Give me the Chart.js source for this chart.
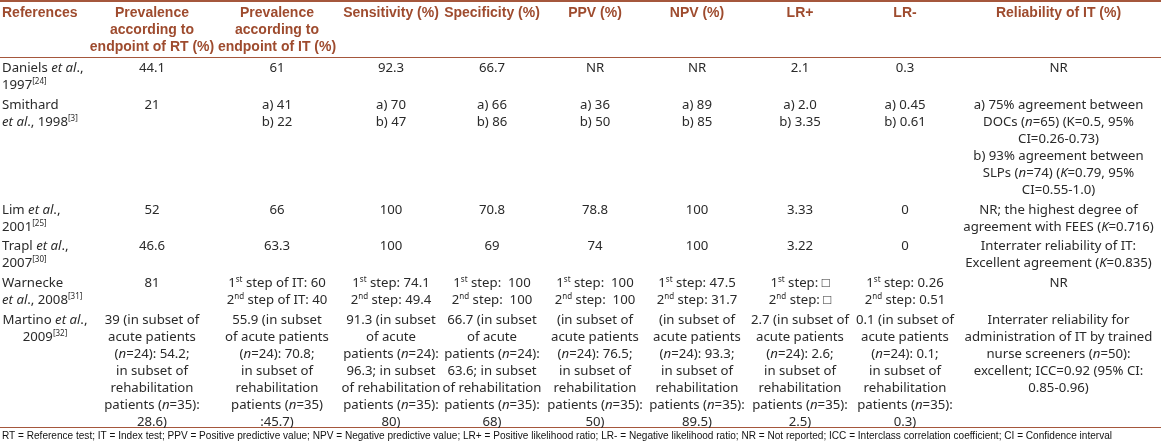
<!DOCTYPE html>
<html>
<head>
<meta charset="utf-8">
<script src="https://cdn.jsdelivr.net/npm/chart.js@4.4.1/dist/chart.umd.min.js"></script>
<style>
  body { margin: 0; background: #fff; }
  #wrap { width: 1161px; height: 445px; position: relative; }
</style>
</head>
<body>
<div id="wrap"><canvas id="table-chart"></canvas></div>
<script>
// table content, one array per column (each cell = list of lines)
// markup: _x_ = italic, ^x^ = superscript
const headers = [
  ['References'],
  ['Prevalence', 'according to', 'endpoint of RT (%)'],
  ['Prevalence', 'according to', 'endpoint of IT (%)'],
  ['Sensitivity (%)'],
  ['Specificity (%)'],
  ['PPV (%)'],
  ['NPV (%)'],
  ['LR+'],
  ['LR-'],
  ['Reliability of IT (%)']
];

const references = [
  ['Daniels _et al_.,', '1997^[24]^'],
  ['Smithard', '_et al_., 1998^[3]^'],
  ['Lim _et al_.,', '2001^[25]^'],
  ['Trapl _et al_.,', '2007^[30]^'],
  ['Warnecke', '_et al_., 2008^[31]^'],
  ['Martino _et al_.,', '2009^[32]^']
];
const prevalenceRT = [
  ['44.1'], ['21'], ['52'], ['46.6'], ['81'],
  ['39 (in subset of', 'acute patients', '(_n_=24): 54.2;', 'in subset of', 'rehabilitation', 'patients (_n_=35):', '28.6)']
];
const prevalenceIT = [
  ['61'], ['a) 41', 'b) 22'], ['66'], ['63.3'],
  ['1^st^ step of IT: 60', '2^nd^ step of IT: 40'],
  ['55.9 (in subset', 'of acute patients', '(_n_=24): 70.8;', 'in subset of', 'rehabilitation', 'patients (_n_=35)', ':45.7)']
];
const sensitivity = [
  ['92.3'], ['a) 70', 'b) 47'], ['100'], ['100'],
  ['1^st^ step: 74.1', '2^nd^ step: 49.4'],
  ['91.3 (in subset', 'of acute', 'patients (_n_=24):', '96.3; in subset', 'of rehabilitation', 'patients (_n_=35):', '80)']
];
const specificity = [
  ['66.7'], ['a) 66', 'b) 86'], ['70.8'], ['69'],
  ['1^st^ step:  100', '2^nd^ step:  100'],
  ['66.7 (in subset', 'of acute', 'patients (_n_=24):', '63.6; in subset', 'of rehabilitation', 'patients (_n_=35):', '68)']
];
const ppv = [
  ['NR'], ['a) 36', 'b) 50'], ['78.8'], ['74'],
  ['1^st^ step:  100', '2^nd^ step:  100'],
  ['(in subset of', 'acute patients', '(_n_=24): 76.5;', 'in subset of', 'rehabilitation', 'patients (_n_=35):', '50)']
];
const npv = [
  ['NR'], ['a) 89', 'b) 85'], ['100'], ['100'],
  ['1^st^ step: 47.5', '2^nd^ step: 31.7'],
  ['(in subset of', 'acute patients', '(_n_=24): 93.3;', 'in subset of', 'rehabilitation', 'patients (_n_=35):', '89.5)']
];
const lrPlus = [
  ['2.1'], ['a) 2.0', 'b) 3.35'], ['3.33'], ['3.22'],
  ['1^st^ step: \u25a1', '2^nd^ step: \u25a1'],
  ['2.7 (in subset of', 'acute patients', '(_n_=24): 2.6;', 'in subset of', 'rehabilitation', 'patients (_n_=35):', '2.5)']
];
const lrMinus = [
  ['0.3'], ['a) 0.45', 'b) 0.61'], ['0'], ['0'],
  ['1^st^ step: 0.26', '2^nd^ step: 0.51'],
  ['0.1 (in subset of', 'acute patients', '(_n_=24): 0.1;', 'in subset of', 'rehabilitation', 'patients (_n_=35):', '0.3)']
];
const reliability = [
  ['NR'],
  ['a) 75% agreement between', 'DOCs (_n_=65) (K=0.5, 95%', 'CI=0.26-0.73)', 'b) 93% agreement between', 'SLPs (_n_=74) (_K_=0.79, 95%', 'CI=0.55-1.0)'],
  ['NR; the highest degree of', 'agreement with FEES (_K_=0.716)'],
  ['Interrater reliability of IT:', 'Excellent agreement (_K_=0.835)'],
  ['NR'],
  ['Interrater reliability for', 'administration of IT by trained', 'nurse screeners (_n_=50):', 'excellent; ICC=0.92 (95% CI:', '0.85-0.96)']
];

const footnote = 'RT = Reference test; IT = Index test; PPV = Positive predictive value; NPV = Negative predictive value; LR+ = Positive likelihood ratio; LR- = Negative likelihood ratio; NR = Not reported; ICC = Interclass correlation coefficient; CI = Confidence interval';

const columnsData = [references, prevalenceRT, prevalenceIT, sensitivity, specificity, ppv, npv, lrPlus, lrMinus, reliability];

// layout
const colWidths = [90, 124, 126, 102, 100, 106, 98, 108, 102, 205];
const refAlign = ['left', 'left', 'left', 'left', 'left', 'center'];
const headPad = 0.35, bodyPad = 0.17;
const RULE = '#a5573c';
const HEAD_COLOR = '#9e4b2e';
const TEXT_COLOR = '#2a2a2a';
const BODY_FONT = '"Noto Sans", sans-serif';
const BODY_SIZE = 13.2;

const colStarts = colWidths.reduce((acc, w, i) => { acc.push(i ? acc[i - 1] + colWidths[i - 1] : 0); return acc; }, []);
const totalWidth = colWidths.reduce((a, b) => a + b, 0);
const rowLines = references.map((_, r) => Math.max(...columnsData.map(col => col[r].length)));
const rowTops = [];
let acc = 3 + headPad;
rowLines.forEach(n => { rowTops.push(acc); acc += n + bodyPad; });
const totalLines = acc - bodyPad;

function parseRich(text) {
  return text.split(/(_[^_]+_|\^[^^]+\^)/).filter(s => s).map(s => {
    if (s[0] === '_' && s.length > 2) return { t: s.slice(1, -1), it: true };
    if (s[0] === '^' && s.length > 2) return { t: s.slice(1, -1), sup: true };
    return { t: s };
  });
}

function drawRich(ctx, text, x, y, align, size, family) {
  const segs = parseRich(text);
  const fontOf = s => s.sup ? `${Math.round(size * 0.62)}px ${family}` : `${s.it ? 'italic ' : ''}${size}px ${family}`;
  let w = 0;
  segs.forEach(s => { ctx.font = fontOf(s); s.w = ctx.measureText(s.t).width; w += s.w; });
  let cx = align === 'center' ? x - w / 2 : x;
  ctx.textAlign = 'left';
  ctx.textBaseline = 'alphabetic';
  segs.forEach(s => {
    ctx.font = fontOf(s);
    ctx.fillText(s.t, cx, s.sup ? y - size * 0.38 : y);
    cx += s.w;
  });
}

const tablePlugin = {
  id: 'tableCells',
  afterDraw(chart) {
    const { ctx, scales: { x, y } } = chart;
    const px = u => x.getPixelForValue(u);
    const py = u => y.getPixelForValue(u);
    const base = 0.5 + 0.33;   // baseline inside a line slot

    ctx.save();
    // rules
    ctx.strokeStyle = RULE;
    ctx.lineWidth = 2;
    ctx.beginPath(); ctx.moveTo(px(0), py(0) + 1); ctx.lineTo(px(totalWidth), py(0) + 1); ctx.stroke();
    ctx.lineWidth = 1.2;
    [3 + headPad, totalLines].forEach(u => {
      const yy = Math.round(py(u)) + 0.5;
      ctx.beginPath(); ctx.moveTo(px(0), yy); ctx.lineTo(px(totalWidth), yy); ctx.stroke();
    });

    // header
    ctx.fillStyle = HEAD_COLOR;
    headers.forEach((lines, c) => {
      const align = c === 0 ? 'left' : 'center';
      const xx = c === 0 ? px(colStarts[c]) + 2 : px(colStarts[c] + colWidths[c] / 2);
      lines.forEach((ln, i) => {
        ctx.font = `bold 14px "Liberation Sans", Arial, sans-serif`;
        ctx.textAlign = align;
        ctx.textBaseline = 'alphabetic';
        ctx.fillText(ln, xx, py(headPad / 2 + i + base));
      });
    });

    // body
    ctx.fillStyle = TEXT_COLOR;
    columnsData.forEach((col, c) => {
      col.forEach((cell, r) => {
        const align = c === 0 ? refAlign[r] : 'center';
        const xx = align === 'left' ? px(colStarts[c]) + 2 : px(colStarts[c] + colWidths[c] / 2);
        cell.forEach((ln, i) => {
          drawRich(ctx, ln, xx, py(rowTops[r] + bodyPad / 2 + i + base), align, BODY_SIZE, BODY_FONT);
        });
      });
    });

    // footnote
    ctx.font = '11px "Liberation Sans Narrow", "Liberation Sans", sans-serif';
    ctx.fillStyle = '#111';
    ctx.textAlign = 'left';
    ctx.textBaseline = 'middle';
    ctx.fillText(footnote, 2, py(totalLines) + 9, 1110);
    ctx.restore();
  }
};

new Chart(document.getElementById('table-chart'), {
  type: 'scatter',
  data: { datasets: [] },
  options: {
    responsive: true,
    maintainAspectRatio: false,
    animation: false,
    layout: { padding: { left: 0, right: 0, top: 0, bottom: 18 } },
    plugins: { legend: { display: false }, tooltip: { enabled: false } },
    scales: {
      x: { type: 'linear', min: 0, max: totalWidth, display: false },
      y: { type: 'linear', min: 0, max: totalLines, reverse: true, display: false }
    }
  },
  plugins: [tablePlugin]
});
</script>
</body>
</html>
